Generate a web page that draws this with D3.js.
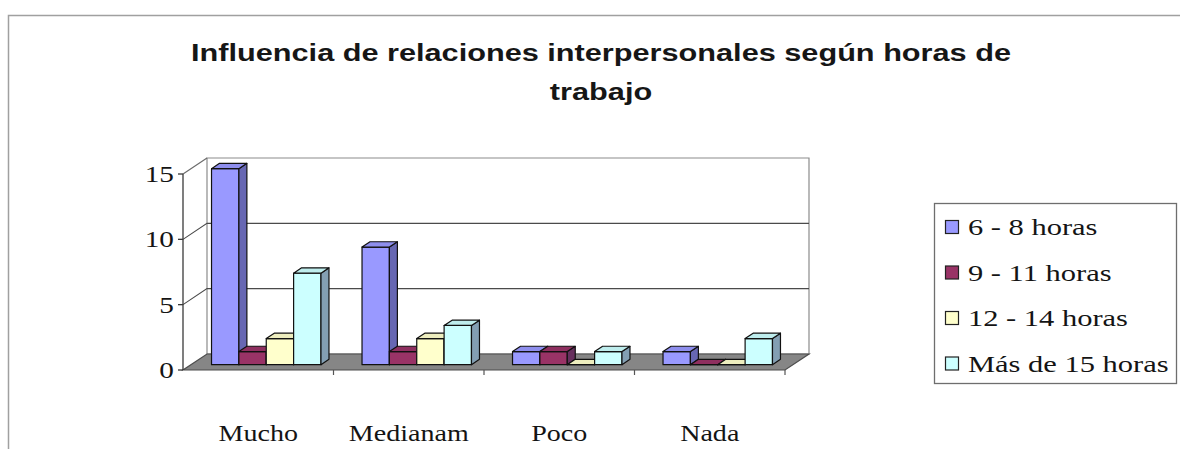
<!DOCTYPE html>
<html>
<head>
<meta charset="utf-8">
<script src="https://cdn.jsdelivr.net/npm/d3@7"></script>
<style>
  body { margin: 0; background: #ffffff; }
  .serif { font-family: "Liberation Serif", "DejaVu Serif", serif; font-size: 24px; fill: #141414; }
  .title { font-family: "Liberation Sans", Arial, sans-serif; font-size: 23px; font-weight: bold; fill: #161616; }
</style>
</head>
<body>
<div id="chart"></div>
<script>
// 3D Column Chart - Influencia de relaciones interpersonales

// Chart Data
const categories = ["Mucho", "Medianam", "Poco", "Nada"];
const seriesNames = ["6 - 8 horas", "9 - 11 horas", "12 - 14 horas", "Más de 15 horas"];
const horas6a8 = [15, 9, 1, 1];
const horas9a11 = [1, 1, 1, 0];
const horas12a14 = [2, 2, 0, 0];
const horas15mas = [7, 3, 1, 2];
const seriesValues = [horas6a8, horas9a11, horas12a14, horas15mas];
const yTicks = [0, 5, 10, 15];
const titleLines = ["Influencia de relaciones interpersonales según horas de", "trabajo"];

// Excel Style Colours For Each Series
const seriesColors = ["#9999ff", "#993366", "#ffffcc", "#ccffff"];

// Plot Frame (Front Plane) and 3D Depth Offset
const plot = {left: 183, right: 785, top: 174, bottom: 370};
const depth = {dx: 24, dy: -16};
const barFront = 1 / 3, barBack = 2 / 3; // bars sit in the middle of the depth
const serifStretch = 1.22; // the scanned chart is stretched sideways

const svg = d3.select("#chart")
  .append("svg")
    .attr("width", 1180)
    .attr("height", 449);

svg.append("rect")
  .attr("width", 1180)
  .attr("height", 449)
  .attr("fill", "#ffffff");

// Outer Chart Border
svg.append("path")
  .attr("d", "M8.5,449 V15.5 H1180")
  .attr("fill", "none")
  .attr("stroke", "#a0a0a0")
  .attr("stroke-width", 1.5);

// Helper For Sideways Stretched Text
function stretchedText(parent, x, y, str, sx, cls, anchor) {
  return parent.append("text")
    .attr("class", cls)
    .attr("text-anchor", anchor)
    .attr("transform", `translate(${x},${y}) scale(${sx},1)`)
    .text(str);
}

// Title, Two Lines, Stretched To The Reference Width
const t1 = stretchedText(svg, 601, 61, titleLines[0], 1, "title", "middle");
const titleStretch = 820 / t1.node().getComputedTextLength();
t1.attr("transform", `translate(601,61) scale(${titleStretch},1)`);
stretchedText(svg, 601, 100, titleLines[1], titleStretch, "title", "middle");

// Scales
const y = d3.scaleLinear()
  .domain([0, 15])
  .range([plot.bottom, plot.top]);

const x0 = d3.scaleBand()
  .domain(categories)
  .range([plot.left, plot.right]);

const x1 = d3.scaleBand()
  .domain(seriesNames)
  .range([0, x0.bandwidth()])
  .paddingOuter(0.75); // Excel gap width of 150%

const toPath = pts => "M" + pts.map(p => p.join(",")).join("L") + "Z";

// Back Wall
svg.append("path")
  .attr("d", toPath([
    [plot.left + depth.dx, y(15) + depth.dy], [plot.right + depth.dx, y(15) + depth.dy],
    [plot.right + depth.dx, y(0) + depth.dy], [plot.left + depth.dx, y(0) + depth.dy]]))
  .attr("fill", "#ffffff")
  .attr("stroke", "#8c8c8c")
  .attr("stroke-width", 1.2);

// Gridlines Across Left Wall and Back Wall
svg.selectAll("gridLines")
  .data(yTicks.filter(d => d > 0 && d < 15))
  .enter()
  .append("path")
    .attr("d", d => `M${plot.left},${y(d)}L${plot.left + depth.dx},${y(d) + depth.dy}H${plot.right + depth.dx}`)
    .attr("fill", "none")
    .attr("stroke", "#4a4a4a")
    .attr("stroke-width", 1.1);

// Left Wall Top Edge
svg.append("path")
  .attr("d", `M${plot.left},${y(15)}L${plot.left + depth.dx},${y(15) + depth.dy}`)
  .attr("stroke", "#6a6a6a")
  .attr("stroke-width", 1.1);

// Gray Floor
svg.append("path")
  .attr("d", toPath([
    [plot.left, y(0)], [plot.right, y(0)],
    [plot.right + depth.dx, y(0) + depth.dy], [plot.left + depth.dx, y(0) + depth.dy]]))
  .attr("fill", "#868686")
  .attr("stroke", "#4d4d4d")
  .attr("stroke-width", 1.2);

// Bar Data Built From The Series Arrays
const barData = [];
categories.forEach((cat, ci) => {
  seriesNames.forEach((s, si) => {
    barData.push({category: cat, series: s, value: seriesValues[si][ci], color: seriesColors[si]});
  });
});

const ax = depth.dx * barFront, ay = depth.dy * barFront;
const bx = depth.dx * barBack, by = depth.dy * barBack;

const bars = svg.selectAll("g.bar")
  .data(barData)
  .enter()
  .append("g")
    .attr("class", "bar");

// Front Face
bars.append("path")
  .attr("d", d => {
    const xl = x0(d.category) + x1(d.series), xr = xl + x1.bandwidth();
    return toPath([[xl + ax, y(d.value) + ay], [xr + ax, y(d.value) + ay], [xr + ax, y(0) + ay], [xl + ax, y(0) + ay]]);
  })
  .attr("fill", d => d.color);

// Right Side Face
bars.append("path")
  .attr("d", d => {
    const xr = x0(d.category) + x1(d.series) + x1.bandwidth();
    return toPath([[xr + ax, y(d.value) + ay], [xr + bx, y(d.value) + by], [xr + bx, y(0) + by], [xr + ax, y(0) + ay]]);
  })
  .attr("fill", d => d3.interpolateRgb(d.color, "#2a2a55")(0.45));

// Top Face
bars.append("path")
  .attr("d", d => {
    const xl = x0(d.category) + x1(d.series), xr = xl + x1.bandwidth();
    return toPath([[xl + ax, y(d.value) + ay], [xl + bx, y(d.value) + by], [xr + bx, y(d.value) + by], [xr + ax, y(d.value) + ay]]);
  })
  .attr("fill", d => d3.color(d.color).darker(0.2));

bars.selectAll("path")
  .attr("stroke", "#111111")
  .attr("stroke-width", 1.2)
  .attr("stroke-linejoin", "round");

// Front Value Axis Line and Ticks
svg.append("line")
  .attr("x1", plot.left).attr("x2", plot.left)
  .attr("y1", y(15)).attr("y2", y(0))
  .attr("stroke", "#3a3a3a")
  .attr("stroke-width", 1.3);

svg.selectAll("yTickMarks")
  .data(yTicks)
  .enter()
  .append("line")
    .attr("x1", plot.left - 5).attr("x2", plot.left)
    .attr("y1", d => y(d)).attr("y2", d => y(d))
    .attr("stroke", "#3a3a3a")
    .attr("stroke-width", 1.3);

yTicks.forEach(d => {
  stretchedText(svg, plot.left - 9, y(d) + 8, d, serifStretch, "serif", "end");
});

// Category Ticks and Labels
svg.selectAll("xTickMarks")
  .data(categories.slice(1).concat(["end"]))
  .enter()
  .append("line")
    .attr("x1", d => d === "end" ? plot.right : x0(d))
    .attr("x2", d => d === "end" ? plot.right : x0(d))
    .attr("y1", y(0)).attr("y2", y(0) + 5)
    .attr("stroke", "#555555")
    .attr("stroke-width", 1.2);

categories.forEach(c => {
  stretchedText(svg, x0(c) + x0.bandwidth() / 2, 441, c, serifStretch, "serif", "middle")
    .style("font-size", "23px");
});

// Legend
const legend = svg.append("g");
legend.append("rect")
  .attr("x", 934.5).attr("y", 203.5)
  .attr("width", 242).attr("height", 180)
  .attr("fill", "#ffffff")
  .attr("stroke", "#6e6e6e")
  .attr("stroke-width", 1.3);

seriesNames.forEach((s, i) => {
  const cy = 227 + i * 45.5;
  legend.append("rect")
    .attr("x", 945.5).attr("y", cy - 6.5)
    .attr("width", 13).attr("height", 13)
    .attr("fill", seriesColors[i])
    .attr("stroke", "#222222")
    .attr("stroke-width", 1.2);
  stretchedText(legend, 968, cy + 8, s, 1.27, "serif", "start");
});
</script>
</body>
</html>
